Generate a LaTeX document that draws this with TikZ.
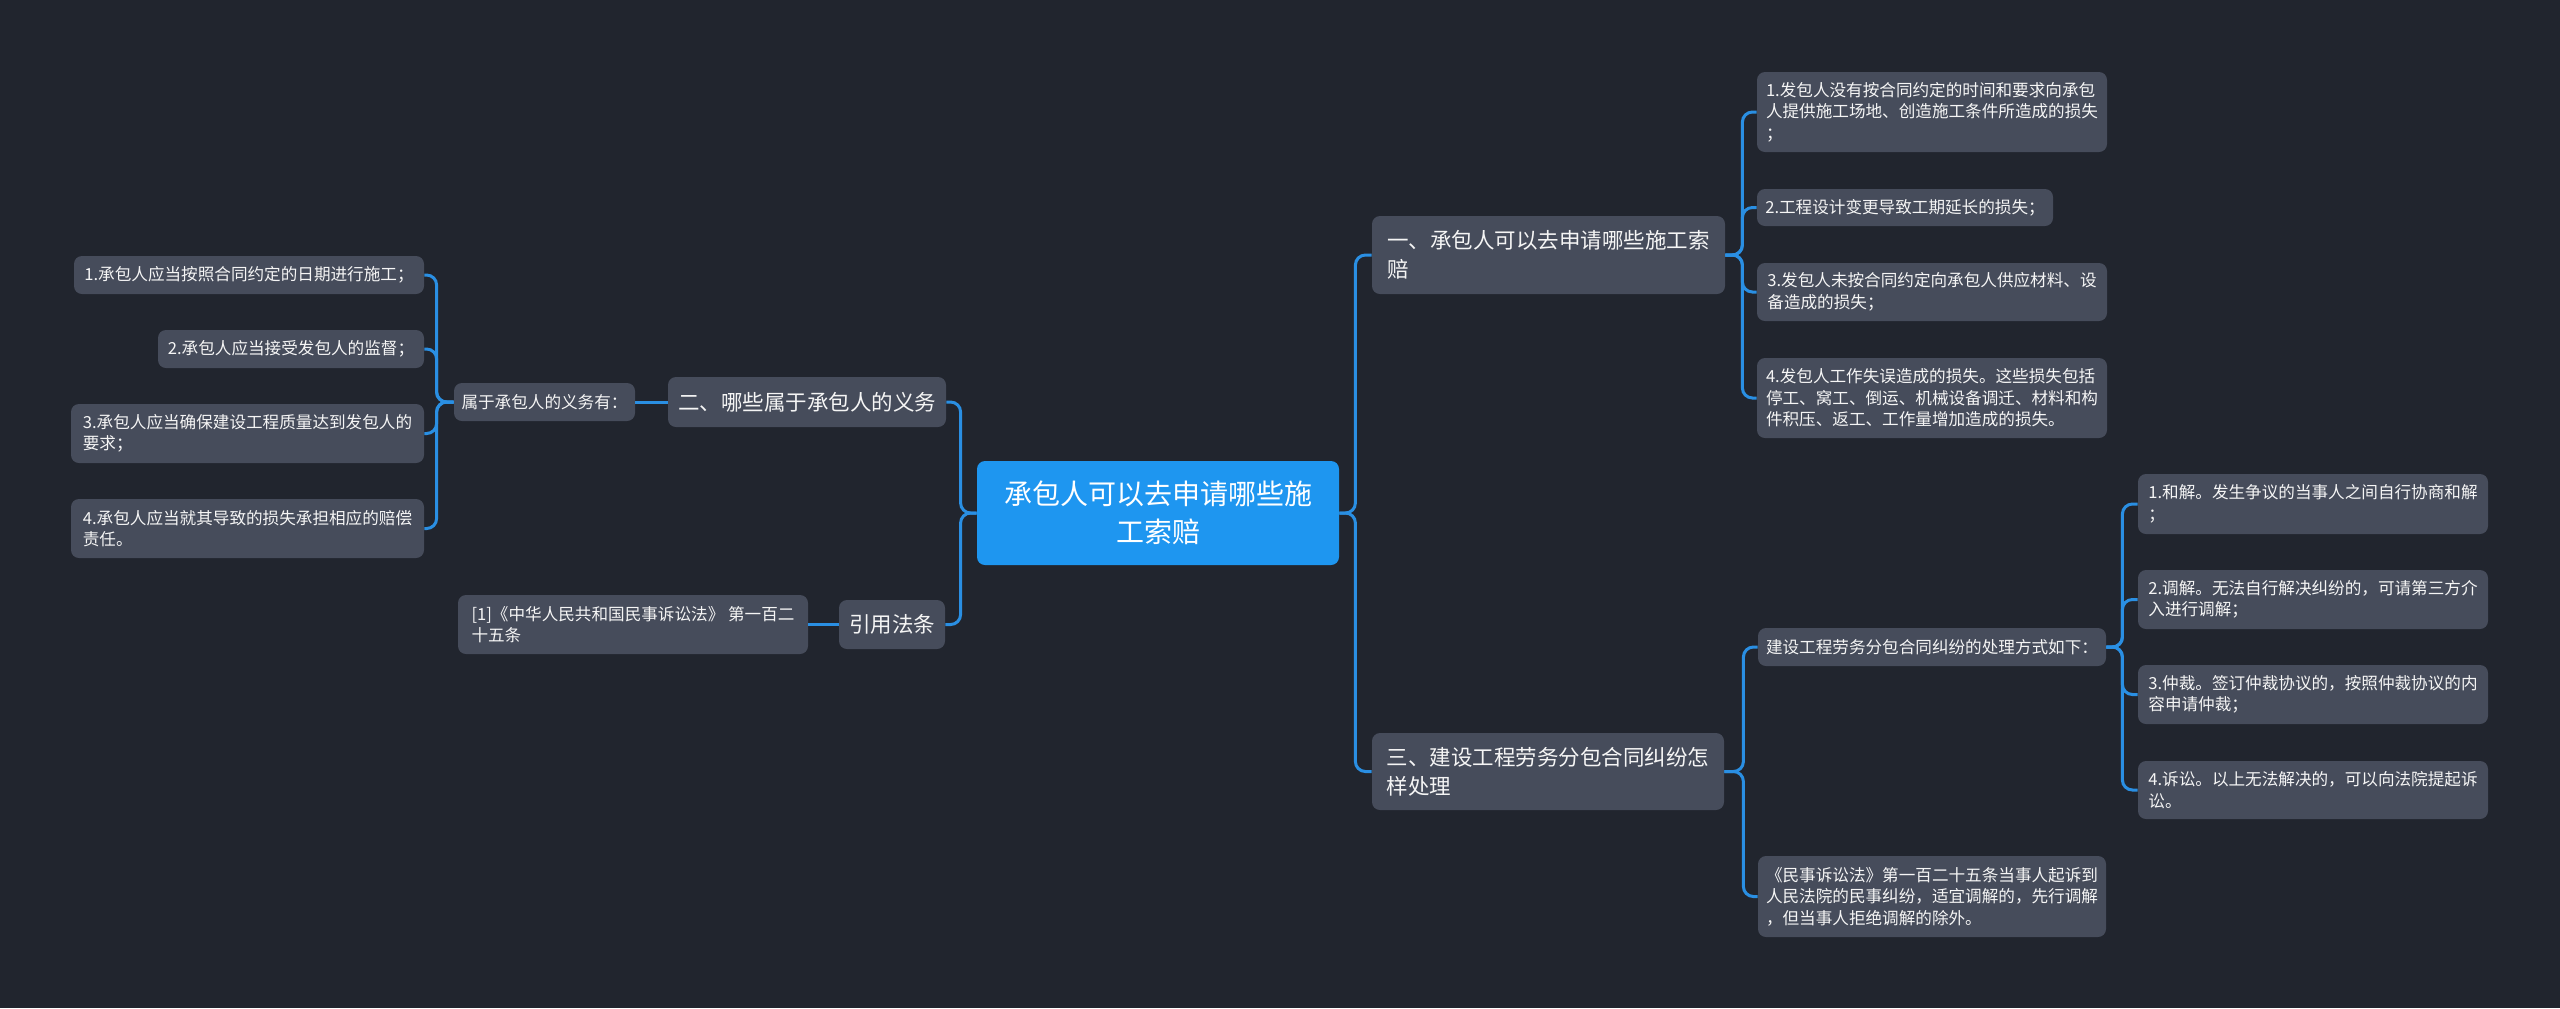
\documentclass[tikz,border=0pt]{standalone}
\usepackage{fontspec}
\setmainfont{Noto Sans CJK SC}
\definecolor{bgc}{RGB}{33,37,46}
\definecolor{nodefill}{RGB}{70,76,91}
\definecolor{centerfill}{RGB}{30,150,240}
\definecolor{linec}{RGB}{42,143,227}
\definecolor{txt}{RGB}{245,245,245}
\newcommand\fleaf{\fontsize{8.3pt}{10.75pt}\selectfont}
\newcommand\fmain{\fontsize{10.75pt}{14.5pt}\selectfont}
\newcommand\fcenter{\fontsize{14pt}{19pt}\selectfont}
% \mmbox{name}{x1}{y1}{x2}{y2}{style}{text}  (coordinates in px)
\newcommand\mmbox[7]{%
  \pgfmathsetmacro\mmw{(#4-#2)*0.5}%
  \pgfmathsetmacro\mmh{(#5-#3)*0.5}%
  \pgfmathsetmacro\mmcx{(#2+#4)/2}%
  \pgfmathsetmacro\mmcy{(#3+#5)/2}%
  \node[#6, minimum width=\mmw pt, minimum height=\mmh pt] (#1) at (\mmcx,\mmcy) {#7};}
\tikzset{
  leafbox/.style={fill=nodefill, rounded corners=4pt, inner sep=0pt, text=txt, align=left, font=\fleaf},
  mainbox/.style={leafbox, font=\fmain},
  centerbox/.style={fill=centerfill, rounded corners=4pt, inner sep=0pt, text=white, align=center, font=\fcenter},
  conn/.style={draw=linec, line width=1.5pt, rounded corners=5pt}
}
\begin{document}
\begin{tikzpicture}[x=0.5pt,y=-0.5pt]
\fill[bgc] (0,0) rectangle (2560,1008);
\useasboundingbox (0,0) rectangle (2560,1008);

% center
\mmbox{C}{977}{461}{1339}{565}{centerbox}{承包人可以去申请哪些施\\工索赔}

% left side
\mmbox{L1}{668}{377}{946}{427}{mainbox}{二、哪些属于承包人的义务}
\mmbox{L1a}{454}{383}{635}{421}{leafbox}{属于承包人的义务有：}
\mmbox{L1a1}{74}{256}{424}{294}{leafbox}{1.承包人应当按照合同约定的日期进行施工；}
\mmbox{L1a2}{158}{330}{424}{368}{leafbox}{2.承包人应当接受发包人的监督；}
\mmbox{L1a3}{71}{404}{424}{463}{leafbox}{3.承包人应当确保建设工程质量达到发包人的\\要求；}
\mmbox{L1a4}{71}{499}{424}{558}{leafbox}{4.承包人应当就其导致的损失承担相应的赔偿\\责任。}
\mmbox{L2}{839}{600}{945}{649}{mainbox}{引用法条}
\mmbox{L2a}{458}{595}{808}{654}{leafbox}{[1]《中华人民共和国民事诉讼法》 第一百二\\十五条}

% right side
\mmbox{R1}{1372}{216}{1725}{294}{mainbox}{一、承包人可以去申请哪些施工索\\赔}
\mmbox{R1a}{1757}{72}{2107}{152}{leafbox}{1.发包人没有按合同约定的时间和要求向承包\\人提供施工场地、创造施工条件所造成的损失\\；}
\mmbox{R1b}{1757}{189}{2053}{226}{leafbox}{2.工程设计变更导致工期延长的损失；}
\mmbox{R1c}{1757}{263}{2107}{321}{leafbox}{3.发包人未按合同约定向承包人供应材料、设\\备造成的损失；}
\mmbox{R1d}{1757}{358}{2107}{438}{leafbox}{4.发包人工作失误造成的损失。这些损失包括\\停工、窝工、倒运、机械设备调迁、材料和构\\件积压、返工、工作量增加造成的损失。}

\mmbox{R2}{1372}{733}{1724}{810}{mainbox}{三、建设工程劳务分包合同纠纷怎\\样处理}
\mmbox{R2a}{1758}{628}{2106}{666}{leafbox}{建设工程劳务分包合同纠纷的处理方式如下：}
\mmbox{R2a1}{2138}{474}{2488}{534}{leafbox}{1.和解。发生争议的当事人之间自行协商和解\\；}
\mmbox{R2a2}{2138}{570}{2488}{629}{leafbox}{2.调解。无法自行解决纠纷的，可请第三方介\\入进行调解；}
\mmbox{R2a3}{2138}{665}{2488}{724}{leafbox}{3.仲裁。签订仲裁协议的，按照仲裁协议的内\\容申请仲裁；}
\mmbox{R2a4}{2138}{761}{2488}{819}{leafbox}{4.诉讼。以上无法解决的，可以向法院提起诉\\讼。}
\mmbox{R2b}{1758}{856}{2106}{937}{leafbox}{《民事诉讼法》第一百二十五条当事人起诉到\\人民法院的民事纠纷，适宜调解的，先行调解\\，但当事人拒绝调解的除外。}

% connectors
\draw[conn] (C.west) -- ++(-16,0) |- (L1.east);
\draw[conn] (C.west) -- ++(-16,0) |- (L2.east);
\draw[conn] (L1.west) -- (L1a.east);
\foreach \n in {L1a1,L1a2,L1a3,L1a4}
  \draw[conn] (L1a.west) -- ++(-17,0) |- (\n.east);
\draw[conn] (L2.west) -- (L2a.east);

\draw[conn] (C.east) -- ++(16,0) |- (R1.west);
\draw[conn] (C.east) -- ++(16,0) |- (R2.west);
\foreach \n in {R1a,R1b,R1c,R1d}
  \draw[conn] (R1.east) -- ++(17,0) |- (\n.west);
\draw[conn] (R2.east) -- ++(19,0) |- (R2a.west);
\draw[conn] (R2.east) -- ++(19,0) |- (R2b.west);
\foreach \n in {R2a1,R2a2,R2a3,R2a4}
  \draw[conn] (R2a.east) -- ++(16,0) |- (\n.west);
\end{tikzpicture}
\end{document}
